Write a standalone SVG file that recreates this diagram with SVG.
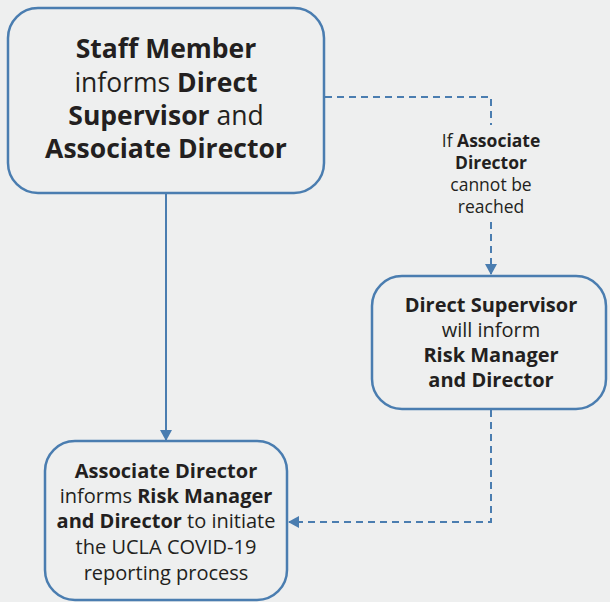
<svg xmlns="http://www.w3.org/2000/svg" width="610" height="602" viewBox="0 0 610 602">
<defs>
<marker id="ah" markerWidth="12" markerHeight="12" refX="10" refY="6" orient="auto" markerUnits="userSpaceOnUse">
<path d="M0,0 L11,6 L0,12 Z" fill="#4a7db0"/>
</marker>
<style>
.box{fill:#eeefef;stroke:#4a7db0;stroke-width:2.5}
.t{font-family:"Open Sans","Noto Sans",sans-serif;fill:#231f20;text-anchor:middle}
.b{font-weight:bold}
.c{fill:none;stroke:#4a7db0;stroke-width:2}
.d{stroke-dasharray:7,5}
</style>
</defs>
<rect width="610" height="602" fill="#eeefef"/>
<g id="connectors">
<path class="c" d="M166,194 V440" marker-end="url(#ah)"/>
<path class="c d" d="M325,97 H491 V125"/>
<path class="c d" d="M491,222 V274" marker-end="url(#ah)"/>
<path class="c d" d="M491,410 V522 H289" marker-end="url(#ah)"/>
<text class="t" font-size="17.5"><tspan x="491" y="147">If <tspan class="b">Associate</tspan></tspan><tspan x="491" y="169" class="b">Director</tspan><tspan x="491" y="191">cannot be</tspan><tspan x="491" y="213">reached</tspan></text>
</g>
<g id="staff-member">
<rect class="box" x="8" y="8" width="316" height="185" rx="30"/>
<text class="t" font-size="26.5"><tspan x="166" y="58" class="b">Staff Member</tspan><tspan x="166" y="92">informs <tspan class="b">Direct</tspan></tspan><tspan x="166" y="125"><tspan class="b">Supervisor</tspan> and</tspan><tspan x="166" y="158" class="b">Associate Director</tspan></text>
</g>
<g id="direct-supervisor">
<rect class="box" x="372" y="276" width="234" height="133" rx="30"/>
<text class="t" font-size="20"><tspan x="491" y="312" class="b">Direct Supervisor</tspan><tspan x="491" y="337">will inform</tspan><tspan x="491" y="362" class="b">Risk Manager</tspan><tspan x="491" y="387" class="b">and Director</tspan></text>
</g>
<g id="associate-director">
<rect class="box" x="45" y="441" width="242" height="159" rx="30"/>
<text class="t" font-size="20"><tspan x="166" y="478" class="b">Associate Director</tspan><tspan x="166" y="503">informs <tspan class="b">Risk Manager</tspan></tspan><tspan x="166" y="528"><tspan class="b">and Director</tspan> to initiate</tspan><tspan x="166" y="554">the UCLA COVID-19</tspan><tspan x="166" y="580">reporting process</tspan></text>
</g>
</svg>
